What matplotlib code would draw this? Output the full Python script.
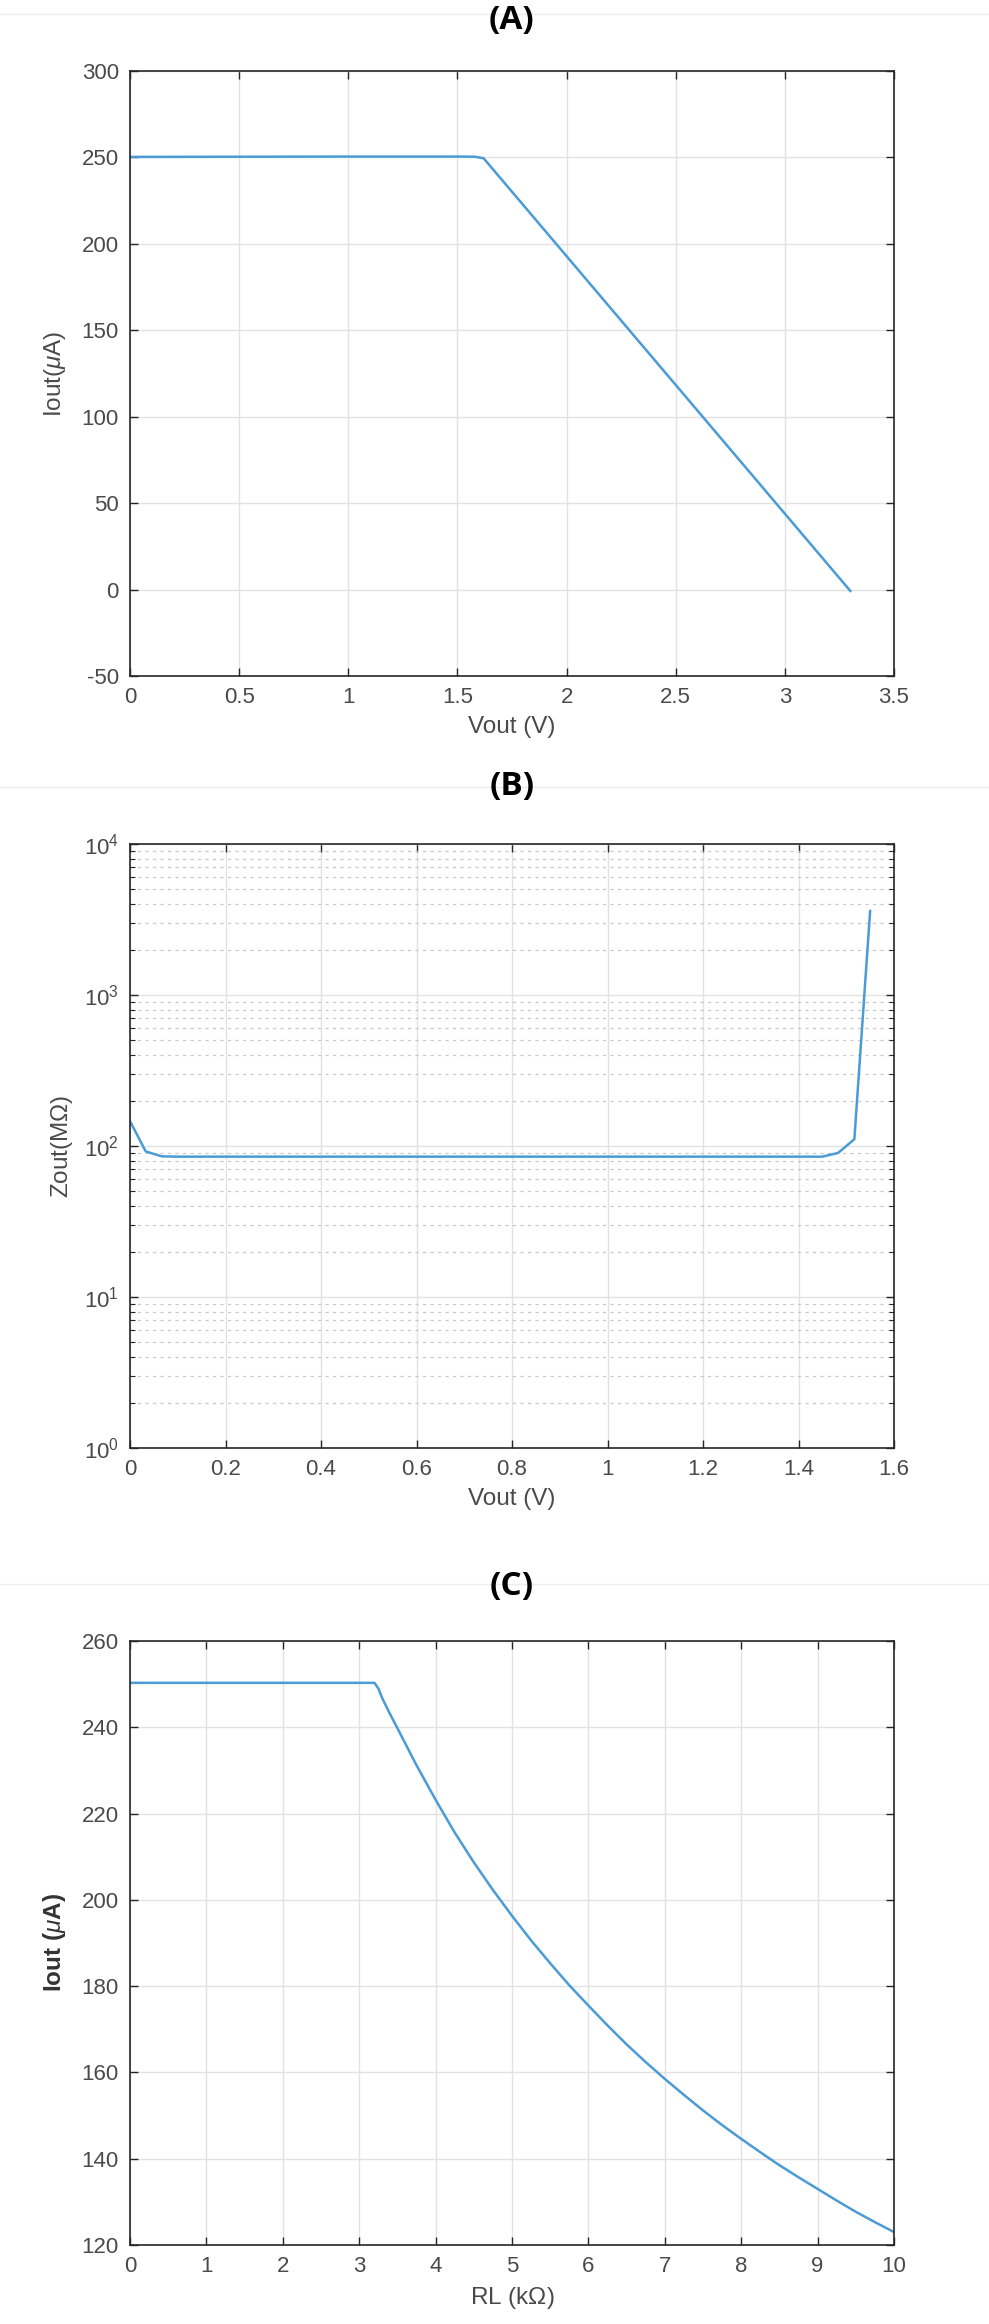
import matplotlib
matplotlib.use("Agg")
import matplotlib.pyplot as plt
from matplotlib.lines import Line2D
from matplotlib.ticker import LogLocator, NullFormatter
import numpy as np

plt.rcParams['font.family'] = ['Liberation Sans', 'DejaVu Sans']
plt.rcParams['mathtext.fontset'] = 'custom'
plt.rcParams['mathtext.rm'] = 'Liberation Sans'
plt.rcParams['mathtext.it'] = 'Liberation Sans:italic'
plt.rcParams['axes.unicode_minus'] = False

# ---------------- data ----------------
# Panel A: Iout vs Vout
vout_a = [0.0, 0.5, 1.0, 1.5, 1.58, 1.62, 3.3]
iout_a = [250.3, 250.4, 250.5, 250.5, 250.4, 249.5, -0.8]
xticks_a = [0, 0.5, 1, 1.5, 2, 2.5, 3, 3.5]
xticklabels_a = ["0", "0.5", "1", "1.5", "2", "2.5", "3", "3.5"]
yticks_a = [-50, 0, 50, 100, 150, 200, 250, 300]

# Panel B: Zout vs Vout (log scale)
vout_b = [0.0, 0.033, 0.066, 0.10, 0.5, 1.0, 1.45, 1.483, 1.517, 1.55]
zout_b = [146, 92, 85.5, 85, 85, 85, 85, 90, 111, 3600]
xticks_b = [0, 0.2, 0.4, 0.6, 0.8, 1.0, 1.2, 1.4, 1.6]
xticklabels_b = ["0", "0.2", "0.4", "0.6", "0.8", "1", "1.2", "1.4", "1.6"]

# Panel C: Iout vs RL
rl_c = [0.0, 1.0, 2.0, 3.0, 3.2, 3.25, 3.3, 3.4, 3.5, 3.75, 4.0, 4.25, 4.5,
        4.75, 5.0, 5.25, 5.5, 5.75, 6.0, 6.25, 6.5, 6.75, 7.0, 7.25, 7.5,
        7.75, 8.0, 8.25, 8.5, 8.75, 9.0, 9.25, 9.5, 9.75, 10.0]
iout_c = [250.3, 250.3, 250.3, 250.3, 250.3, 249.0, 246.8, 243.2, 239.8,
          231.2, 223.2, 215.6, 208.7, 202.3, 196.3, 190.6, 185.3, 180.2,
          175.5, 170.9, 166.5, 162.4, 158.5, 154.8, 151.2, 147.8, 144.6,
          141.5, 138.5, 135.7, 133.0, 130.3, 127.7, 125.3, 123.0]
xticks_c = list(range(0, 11))
yticks_c = [120, 140, 160, 180, 200, 220, 240, 260]

titles = ["(A)", "(B)", "(C)"]

# ---------------- figure ----------------
W, H = 989, 2324
fig = plt.figure(figsize=(W / 100, H / 100), dpi=100)

LINE = '#4a9bd6'
SPINE = '#262626'
TXT = '#4a4a4a'
GRID = '#e2e2e2'

def px_axes(top, bottom, left=130, right=894):
    return fig.add_axes([left / W, 1 - bottom / H, (right - left) / W, (bottom - top) / H])

def style(ax):
    for s in ax.spines.values():
        s.set_color(SPINE)
        s.set_linewidth(1.2)
    ax.tick_params(which='major', direction='in', length=6, width=1.0,
                   top=True, right=True, colors=SPINE, labelcolor=TXT,
                   labelsize=16, pad=8)
    ax.grid(True, which='major', color=GRID, linewidth=1.0)
    ax.set_axisbelow(True)

# separator lines
for y in [14, 787, 1584]:
    fig.add_artist(Line2D([0, 1], [1 - y / H, 1 - y / H], color='#ececec',
                          linewidth=1.0, transform=fig.transFigure, zorder=0))

# Panel A
axA = px_axes(71, 676)
style(axA)
axA.plot(vout_a, iout_a, color=LINE, linewidth=1.8)
axA.set_xlim(0, 3.5)
axA.set_ylim(-50, 300)
axA.set_xticks(xticks_a)
axA.set_xticklabels(xticklabels_a)
axA.set_yticks(yticks_a)
axA.set_xlabel("Vout (V)", fontsize=17.5, color=TXT, labelpad=6)
axA.set_ylabel(r"Iout($\mu$A)", fontsize=17.5, color=TXT, labelpad=10)

# Panel B
axB = px_axes(844, 1448)
style(axB)
axB.plot(vout_b, zout_b, color=LINE, linewidth=1.8)
axB.set_yscale('log')
axB.set_xlim(0, 1.6)
axB.set_ylim(1, 1e4)
axB.set_xticks(xticks_b)
axB.set_xticklabels(xticklabels_b)
axB.yaxis.set_major_locator(LogLocator(base=10, numticks=10))
axB.yaxis.set_minor_locator(LogLocator(base=10, subs=np.arange(2, 10), numticks=20))
axB.yaxis.set_minor_formatter(NullFormatter())
axB.tick_params(which='minor', direction='in', length=3.5, width=0.8,
                right=True, colors=SPINE)
axB.grid(True, which='minor', axis='y', color='#c8c8c8', linewidth=0.9,
         linestyle=(0, (2.5, 3.5)))
axB.set_xlabel("Vout (V)", fontsize=17.5, color=TXT, labelpad=6)
axB.set_ylabel(r"Zout(M$\Omega$)", fontsize=17.5, color=TXT, labelpad=6)

# Panel C
axC = px_axes(1641, 2245)
style(axC)
axC.plot(rl_c, iout_c, color=LINE, linewidth=1.8)
axC.set_xlim(0, 10)
axC.set_ylim(120, 260)
axC.set_xticks(xticks_c)
axC.set_yticks(yticks_c)
axC.set_xlabel(r"RL (k$\Omega$)", fontsize=17.5, color=TXT, labelpad=6)
axC.set_ylabel(r"Iout ($\mu$A)", fontsize=17.5, color='#333333', labelpad=10,
               fontweight='bold')

# titles
for t, yc in zip(titles, [20, 787, 1587]):
    fig.text(512 / W, 1 - yc / H, t, ha='center', va='center',
             fontsize=24, fontweight='bold', family=['Open Sans', 'DejaVu Sans'],
             color='black')

fig.savefig("out.png", dpi=100, facecolor='white')
